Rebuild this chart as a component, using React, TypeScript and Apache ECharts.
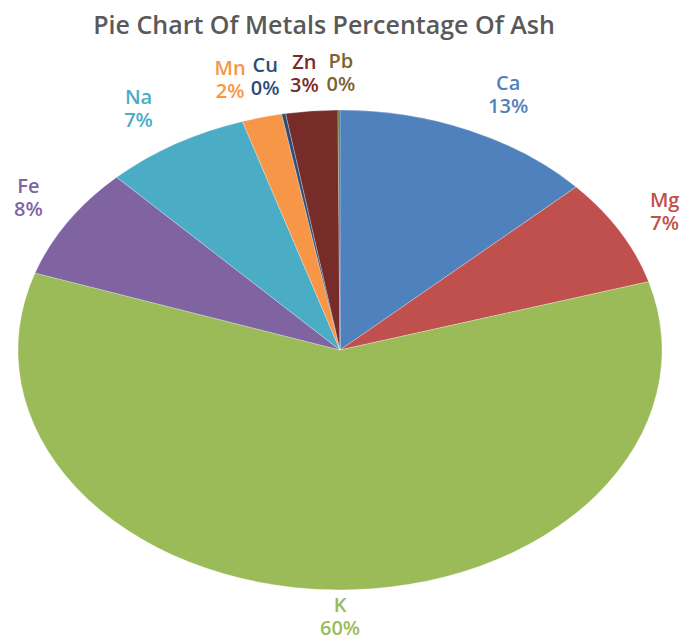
import React, { useEffect, useRef } from "react";
import * as echarts from "echarts";

const TITLE = "Pie Chart Of Metals Percentage Of Ash";
const metals = ["Ca", "Mg", "K", "Fe", "Na", "Mn", "Cu", "Zn", "Pb"];
const percentages = [13.1, 7.3, 59.8, 7.6, 7.3, 2.0, 0.2, 2.6, 0.1];
const sliceColors = ["#4F81BD", "#C0504D", "#9BBB59", "#8064A2", "#4BACC6", "#F79646", "#2C4D75", "#772C2A", "#5F7530"];
const labelColors = ["#4F81BD", "#C0504D", "#9BBB59", "#8064A2", "#4BACC6", "#F79646", "#2C4D75", "#772C2A", "#7B6231"];
// layout nudges for crowded labels (dx, dy)
const labelNudge: [number, number][] = [
  [20, -3], [3, -2], [7, -10], [1, -5], [-12, -5], [-20, -3], [-10, -2], [-3, -2], [2, -2],
];

export default function App() {
  const ref = useRef<HTMLDivElement>(null);
  useEffect(() => {
    if (!ref.current) return;
    const chart = echarts.init(ref.current, undefined, { renderer: "svg" });
    const total = percentages.reduce((a, b) => a + b, 0);
    const cum: number[] = [];
    let acc = 0;
    percentages.forEach((v) => { cum.push(acc); acc += v; });

    const cx = 340, cy = 350, rx = 322, ry = 240;
    const labelFont = "600 20px 'Open Sans'";

    chart.setOption({
      animation: false,
      title: {
        text: TITLE,
        left: 319,
        top: 6,
        textAlign: "center",
        textStyle: { fontFamily: "Open Sans", fontWeight: 600, fontSize: 25, color: "#595959" },
      },
      series: [
        {
          type: "custom",
          coordinateSystem: "none",
          data: percentages.map((v, i) => [i, v]),
          renderItem: (params: any, api: any) => {
            const i = api.value(0) as number;
            const v = api.value(1) as number;
            const start = -Math.PI / 2 + (2 * Math.PI * cum[i]) / total;
            const end = start + (2 * Math.PI * v) / total;
            const mid = (start + end) / 2;
            const lx = cx + rx * 1.15 * Math.cos(mid) + labelNudge[i][0];
            const ly = cy + ry * 1.15 * Math.sin(mid) + labelNudge[i][1];
            return {
              type: "group",
              children: [
                {
                  type: "group",
                  x: cx,
                  y: cy,
                  scaleY: ry / rx,
                  children: [
                    {
                      type: "sector",
                      shape: { cx: 0, cy: 0, r0: 0, r: rx, startAngle: start, endAngle: end, clockwise: true },
                      style: { fill: sliceColors[i], stroke: "rgba(255,255,255,0.5)", lineWidth: 0.6 },
                    },
                  ],
                },
                {
                  type: "text",
                  x: lx,
                  y: ly - 11.5,
                  style: {
                    text: metals[i],
                    fill: labelColors[i],
                    font: labelFont,
                    lineHeight: 21,
                    align: "center",
                    verticalAlign: "middle",
                  },
                },
                {
                  type: "text",
                  x: lx,
                  y: ly + 11.5,
                  style: {
                    text: Math.round((v / total) * 100) + "%",
                    fill: labelColors[i],
                    font: labelFont,
                    lineHeight: 21,
                    align: "center",
                    verticalAlign: "middle",
                  },
                },
              ],
            };
          },
        },
      ],
    });
    return () => chart.dispose();
  }, []);
  return (
    <div
      ref={ref}
      style={{ position: "absolute", left: 0, top: 0, width: 680, height: 639, background: "#fff" }}
    />
  );
}
